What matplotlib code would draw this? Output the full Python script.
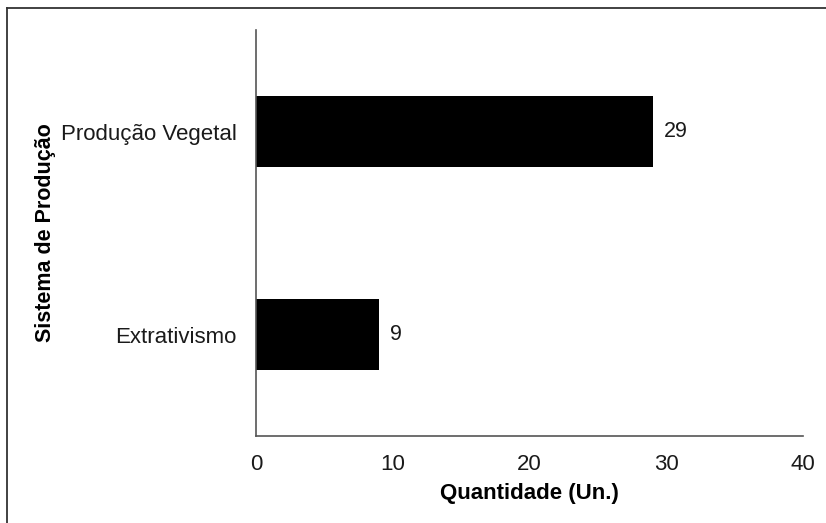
import matplotlib.pyplot as plt
from matplotlib.lines import Line2D

plt.rcParams['font.family'] = ['Liberation Sans', 'DejaVu Sans']

categorias = ["Extrativismo", "Produção Vegetal"]
quantidades = [9, 29]
x_ticks = [0, 10, 20, 30, 40]

fig = plt.figure(figsize=(8.26, 5.23), dpi=100)
ax = fig.add_axes([0.3099, 0.1663, 0.6623, 0.7763])

pos = range(len(categorias))
bars = ax.barh(pos, quantidades, height=0.35, color="black")
for b, q in zip(bars, quantidades):
    ax.text(b.get_width() + 0.8, b.get_y() + b.get_height() / 2, str(q),
            va="center", ha="left", fontsize=15.5, color="#1a1a1a")

ax.set_yticks(list(pos))
ax.set_yticklabels(categorias)
ax.set_ylim(-0.5, 1.5)
ax.set_xlim(0, 40)
ax.set_xticks(x_ticks)

for s in ["top", "right"]:
    ax.spines[s].set_visible(False)
for s in ["left", "bottom"]:
    ax.spines[s].set_color("#555555")
    ax.spines[s].set_linewidth(1.2)

ax.tick_params(axis="both", length=0, labelsize=16, labelcolor="#1a1a1a")
ax.tick_params(axis="x", pad=13)
ax.tick_params(axis="y", pad=14)

ax.set_xlabel("Quantidade (Un.)", fontsize=16, fontweight="bold", labelpad=6)
ax.set_ylabel("Sistema de Produção", fontsize=15.5, fontweight="bold", labelpad=3)

# moldura da figura (apenas topo e esquerda visiveis)
fig.add_artist(Line2D([7 / 826, 7 / 826], [0, 1 - 8 / 523], color="#333333", lw=1.3,
                      transform=fig.transFigure))
fig.add_artist(Line2D([7 / 826, 1], [1 - 8 / 523, 1 - 8 / 523], color="#333333", lw=1.3,
                      transform=fig.transFigure))

fig.savefig("out.png", dpi=100)
